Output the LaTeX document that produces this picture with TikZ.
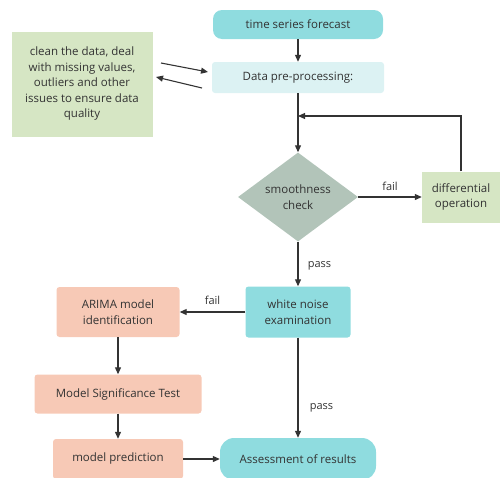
\documentclass[tikz,border=0pt]{standalone}
\usepackage{fontspec}
\setmainfont{Open Sans}
\usetikzlibrary{shapes.geometric,arrows.meta}
\definecolor{teal}{HTML}{8FDCDF}
\definecolor{lcyan}{HTML}{DCF2F3}
\definecolor{lgreen}{HTML}{D6E6C4}
\definecolor{dgreen}{HTML}{B2C4B9}
\definecolor{salmon}{HTML}{F7C9B6}
\definecolor{txt}{HTML}{333333}
\definecolor{ln}{HTML}{333333}
\begin{document}
\begin{tikzpicture}[x=1pt,y=-1pt,
  base/.style={font=\fontsize{11.5}{15.5}\selectfont, text=txt, align=center, inner sep=0pt},
  pill/.style={base, fill=teal, rounded corners=9pt},
  tealbox/.style={base, fill=teal, rounded corners=3pt},
  cyanbox/.style={base, fill=lcyan, rounded corners=3pt},
  greenbox/.style={base, fill=lgreen},
  salbox/.style={base, fill=salmon, rounded corners=3pt},
  decide/.style={base, diamond, fill=dgreen, aspect=1.35},
  arr/.style={draw=ln, line width=1.1pt, -{Triangle[length=7pt,width=6pt]}},
  lab/.style={font=\fontsize{11}{13}\selectfont, text=txt}
]
\useasboundingbox (0,0) rectangle (502,477);
\node[pill, minimum width=170pt, minimum height=29pt] (tsf) at (298,24.5) {time series forecast};
\node[cyanbox, minimum width=172pt, minimum height=31pt] (pre) at (298,77.5) {Data pre-processing:};
\node[greenbox, minimum width=141pt, minimum height=105pt] (clean) at (82,84) {clean the data, deal\\with missing values,\\outliers and other\\issues to ensure data\\quality};
\node[decide, minimum width=120pt, minimum height=89pt] (dia) at (298,197) {smoothness\\check};
\node[greenbox, minimum width=78pt, minimum height=51pt] (diff) at (461,197) {differential\\operation};
\node[tealbox, minimum width=105pt, minimum height=51pt] (wn) at (298,312) {white noise\\examination};
\node[salbox, minimum width=123pt, minimum height=50pt] (arima) at (118,312) {ARIMA model\\identification};
\node[salbox, minimum width=167pt, minimum height=39pt] (mst) at (118,394) {Model Significance Test};
\node[salbox, minimum width=130pt, minimum height=40pt] (mp) at (118,459) {model prediction};
\node[pill, rounded corners=14pt, minimum width=156pt, minimum height=42pt] (ass) at (298,459) {Assessment of results};

\coordinate (a1s) at (161,63);
\coordinate (a1e) at (208,72);
\coordinate (a2s) at (202,88);
\coordinate (a2e) at (156,77);
\coordinate (j) at (298,116);

\draw[arr] (tsf) -- (pre);
\draw[arr] (a1s) -- (a1e);
\draw[arr] (a2s) -- (a2e);
\draw[arr] (pre) -- (dia);
\draw[arr] (diff.north) |- (j);
\draw[arr] (dia) -- node[lab, above=3pt] {fail} (diff);
\draw[arr] (dia) -- node[lab, right=6pt, pos=0.55] {pass} (wn);
\draw[arr] (wn) -- node[lab, above=4pt] {fail} (arima);
\draw[arr] (arima) -- (mst);
\draw[arr] (mst) -- (mp);
\draw[arr] (mp) -- (ass);
\draw[arr] (wn) -- node[lab, right=8pt, pos=0.7] {pass} (ass);
\end{tikzpicture}
\end{document}
